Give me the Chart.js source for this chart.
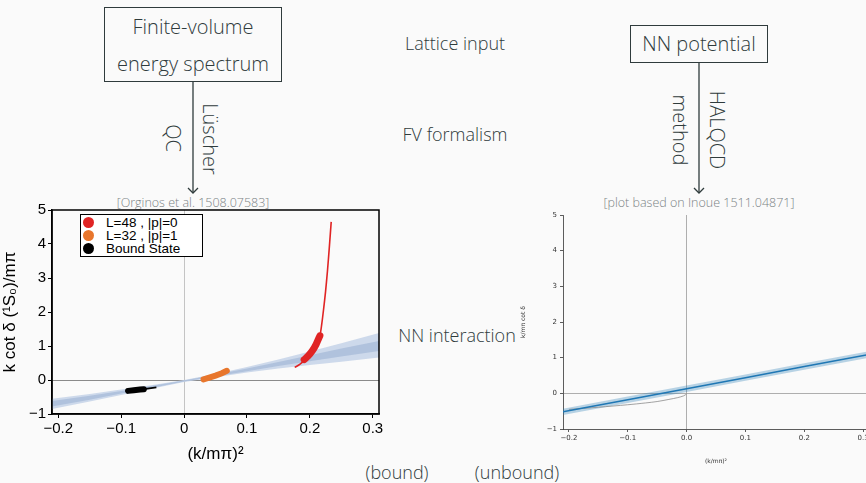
<!DOCTYPE html>
<html>
<head>
<meta charset="utf-8">
<script src="https://cdn.jsdelivr.net/npm/chart.js@4.4.0/dist/chart.umd.min.js"></script>
<style>
  html, body { margin: 0; padding: 0; width: 866px; height: 483px; overflow: hidden; background: #fafafa; }
  body { position: relative; font-family: "Open Sans", "Noto Sans", sans-serif; font-weight: 300; color: #2f3b3c; }
  .t { position: absolute; white-space: nowrap; transform: translate(-50%, -50%); font-size: 18px; }
  .rot { transform: translate(-50%, -50%) rotate(90deg); font-size: 20px; }
  .box { position: absolute; border: 1.3px solid #2f3b3c; box-sizing: border-box; text-align: center; font-size: 20px; }
  .ref { font-size: 12.5px; color: #7a8385; }
  .chart { position: absolute; }
  #legend { position: absolute; left: 80px; top: 214px; width: 123px; height: 43px; box-sizing: border-box;
            border: 1.3px solid #000; background: #fff; font-family: "Liberation Sans", Arial, sans-serif;
            font-weight: 400; font-size: 13.5px; color: #000; }
  #legend div { position: absolute; left: 0; height: 13px; line-height: 13px; }
  #legend span.dot { position: absolute; left: 2px; top: 1px; width: 11px; height: 11px; border-radius: 50%; }
  #legend span.lab { position: absolute; left: 25px; top: 0; white-space: nowrap; }
</style>
</head>
<body>

<div class="box" style="left:104px;top:7px;width:178px;height:75px;line-height:37px;">Finite-volume<br>energy spectrum</div>
<div class="box" style="left:630px;top:25px;width:138px;height:38px;line-height:36px;">NN potential</div>

<svg style="position:absolute;left:0;top:0" width="866" height="483">
  <g stroke="#2f3b3c" stroke-width="1.3" fill="none">
    <line x1="193" y1="82" x2="193" y2="193"/>
    <polyline points="188,188 193,193 198,188"/>
    <line x1="699" y1="63" x2="699" y2="193"/>
    <polyline points="694,188 699,193 704,188"/>
  </g>
</svg>

<div class="t rot" style="left:210px;top:139px;">Lüscher</div>
<div class="t rot" style="left:173px;top:138px;">QC</div>
<div class="t rot" style="left:717px;top:130px;">HALQCD</div>
<div class="t rot" style="left:680px;top:130px;">method</div>

<div class="t" style="left:455px;top:43px;">Lattice input</div>
<div class="t" style="left:455px;top:134px;">FV formalism</div>
<div class="t" style="left:457px;top:335px;">NN interaction</div>
<div class="t" style="left:397px;top:472px;">(bound)</div>
<div class="t" style="left:517px;top:472px;">(unbound)</div>

<div class="t ref" style="left:193px;top:202px;">[Orginos et al. 1508.07583]</div>
<div class="t ref" style="left:699px;top:202px;">[plot based on Inoue 1511.04871]</div>

<canvas id="left" class="chart" width="390" height="270" style="left:0;top:195px;"></canvas>
<canvas id="right" class="chart" width="352" height="270" style="left:520px;top:195px;"></canvas>

<div id="legend"></div>

<script>
// ---- data ----
const xTickVals = [-0.2, -0.1, 0, 0.1, 0.2, 0.3];
const yTickVals = [-1, 0, 1, 2, 3, 4, 5];
const xTickLeft = ["\u22120.2", "\u22120.1", "0", "0.1", "0.2", "0.3"];
const xTickRight = ["\u22120.2", "\u22120.1", "0.0", "0.1", "0.2", "0.3"];
const yTickLabels = ["\u22121", "0", "1", "2", "3", "4", "5"];

// left plot: fit bands
const bandX   = [-0.21, -0.15, -0.1, -0.05, 0, 0.05, 0.1, 0.15, 0.2, 0.25, 0.31];
const outerLo = [-0.85, -0.63, -0.44, -0.25, -0.06, 0.08, 0.22, 0.34, 0.44, 0.54, 0.66];
const outerHi = [-0.55, -0.41, -0.28, -0.15, 0.00, 0.18, 0.38, 0.60, 0.84, 1.08, 1.38];
const innerLo = [-0.78, -0.58, -0.40, -0.23, -0.045, 0.10, 0.26, 0.41, 0.55, 0.69, 0.85];
const innerHi = [-0.62, -0.46, -0.32, -0.17, -0.015, 0.16, 0.34, 0.53, 0.73, 0.93, 1.15];

// left plot: lattice data
const redThinX  = [0.176, 0.184, 0.191, 0.198, 0.205, 0.211, 0.216, 0.219, 0.222, 0.225, 0.228, 0.231, 0.234];
const redThinY  = [0.37, 0.46, 0.57, 0.70, 0.86, 1.05, 1.30, 1.65, 2.10, 2.60, 3.20, 3.90, 4.65];
const redThickX = [0.191, 0.197, 0.204, 0.210, 0.216];
const redThickY = [0.60, 0.70, 0.86, 1.05, 1.30];
const orangeX   = [0.031, 0.040, 0.050, 0.060, 0.068];
const orangeY   = [0.02, 0.07, 0.13, 0.20, 0.27];
const blackThickX = [-0.089, -0.080, -0.070, -0.064];
const blackThickY = [-0.32, -0.30, -0.28, -0.27];
const blackThinX  = [-0.093, -0.064, -0.044];
const blackThinY  = [-0.325, -0.27, -0.22];

const legendLabels = ["L=48 , |p|=0", "L=32 , |p|=1", "Bound State"];
const legendColors = ["#e02424", "#e8762c", "#000000"];

// right plot: HALQCD line + band, bound state curve
const lineX  = [-0.21, -0.1, 0, 0.1, 0.2, 0.31];
const lineY  = [-0.52, -0.18, 0.13, 0.44, 0.75, 1.09];
const lineLo = [-0.61, -0.27, 0.04, 0.35, 0.66, 1.00];
const lineHi = [-0.43, -0.09, 0.22, 0.53, 0.84, 1.18];
const boundX = [-0.20, -0.15, -0.10, -0.07, -0.05, -0.03, -0.015, -0.005, 0];
const boundY = [-0.45, -0.39, -0.32, -0.27, -0.23, -0.17, -0.12, -0.07, -0.02];

// ---- helpers ----
function pts(xs, ys) {
  return xs.map((x, i) => ({ x: x, y: ys[i] }));
}

function fixTicks(vals) {
  return function (scale) {
    scale.ticks = vals.map(v => ({ value: v }));
  };
}

// closed frame round the left plot
const framePlugin = {
  id: "frame",
  afterDatasetsDraw(chart, args, opts) {
    if (!opts.draw) return;
    const a = chart.chartArea;
    const ctx = chart.ctx;
    ctx.save();
    ctx.strokeStyle = "#000";
    ctx.lineWidth = 1.5;
    ctx.strokeRect(a.left, a.top, a.right - a.left, a.bottom - a.top);
    ctx.restore();
  }
};

// ---- legend (html) ----
const legendEl = document.getElementById("legend");
legendLabels.forEach((lab, i) => {
  const row = document.createElement("div");
  row.style.top = (i * 13 + 1) + "px";
  row.innerHTML = '<span class="dot" style="background:' + legendColors[i] + '"></span><span class="lab">' + lab + "</span>";
  legendEl.appendChild(row);
});

// ---- left chart ----
// note: chart.js paints the first dataset on top, so data first, bands last
const outerFill = "rgba(196,210,232,0.85)";
const innerFill = "rgba(172,190,219,0.85)";

new Chart(document.getElementById("left"), {
  type: "scatter",
  data: {
    datasets: [
      { data: pts(redThickX, redThickY), showLine: true, pointRadius: 0, borderWidth: 7, borderColor: legendColors[0], borderCapStyle: "round", tension: 0.3 },
      { data: pts(redThinX, redThinY), showLine: true, pointRadius: 0, borderWidth: 1.6, borderColor: legendColors[0], tension: 0.3 },
      { data: pts(orangeX, orangeY), showLine: true, pointRadius: 0, borderWidth: 6, borderColor: legendColors[1], borderCapStyle: "round" },
      { data: pts(blackThickX, blackThickY), showLine: true, pointRadius: 0, borderWidth: 6, borderColor: legendColors[2], borderCapStyle: "round" },
      { data: pts(blackThinX, blackThinY), showLine: true, pointRadius: 0, borderWidth: 1.8, borderColor: legendColors[2] },
      { data: pts(bandX, innerLo), showLine: true, pointRadius: 0, borderWidth: 0, borderColor: "transparent", fill: false },
      { data: pts(bandX, innerHi), showLine: true, pointRadius: 0, borderWidth: 0, borderColor: "transparent", fill: "-1", backgroundColor: innerFill },
      { data: pts(bandX, outerLo), showLine: true, pointRadius: 0, borderWidth: 0, borderColor: "transparent", fill: false },
      { data: pts(bandX, outerHi), showLine: true, pointRadius: 0, borderWidth: 0, borderColor: "transparent", fill: "-1", backgroundColor: outerFill }
    ]
  },
  options: {
    responsive: false,
    animation: false,
    layout: { padding: { top: 15, right: 11, left: 0, bottom: 0 } },
    plugins: { legend: { display: false }, tooltip: { enabled: false }, frame: { draw: true } },
    scales: {
      x: {
        type: "linear", min: -0.21, max: 0.31,
        afterBuildTicks: fixTicks(xTickVals),
        afterFit: s => { s.height = 51; },
        ticks: {
          color: "#000", padding: 2, maxRotation: 0, autoSkip: false,
          font: { family: "Liberation Sans", size: 15 },
          callback: (v) => xTickLeft[xTickVals.findIndex(t => Math.abs(t - v) < 1e-9)]
        },
        grid: {
          color: c => (c.tick && c.tick.value === 0 ? "#c4c4c4" : "transparent"),
          tickColor: "#000", tickLength: 4, lineWidth: 1
        },
        border: { display: true, color: "#000", width: 1.5 },
        title: { display: true, text: "(k/m\u03c0)\u00b2", color: "#000", padding: { top: 4, bottom: 0 },
                 font: { family: "Liberation Sans", size: 17 } }
      },
      y: {
        type: "linear", min: -1, max: 5,
        afterBuildTicks: fixTicks(yTickVals),
        afterFit: s => { s.width = 52; },
        ticks: {
          color: "#000", padding: 2,
          font: { family: "Liberation Sans", size: 15 },
          callback: (v) => yTickLabels[yTickVals.indexOf(v)]
        },
        grid: {
          color: c => (c.tick && c.tick.value === 0 ? "#8a8a8a" : "transparent"),
          tickColor: "#000", tickLength: 4, lineWidth: 1
        },
        border: { display: true, color: "#000", width: 1.5 },
        title: { display: true, text: "k cot \u03b4 (\u00b9S\u2080)/m\u03c0", color: "#000", padding: { top: 0, bottom: 2 },
                 font: { family: "Liberation Sans", size: 17 } }
      }
    }
  },
  plugins: [framePlugin]
});

// ---- right chart ----
new Chart(document.getElementById("right"), {
  type: "scatter",
  data: {
    datasets: [
      { data: pts(lineX, lineY), showLine: true, pointRadius: 0, borderWidth: 1.5, borderColor: "#1f77b4" },
      { data: pts(boundX, boundY), showLine: true, pointRadius: 0, borderWidth: 0.8, borderColor: "#8c8c8c", tension: 0.3 },
      { data: pts(lineX, lineLo), showLine: true, pointRadius: 0, borderWidth: 0, borderColor: "transparent", fill: false },
      { data: pts(lineX, lineHi), showLine: true, pointRadius: 0, borderWidth: 0, borderColor: "transparent", fill: "-1", backgroundColor: "rgba(31,119,180,0.3)" }
    ]
  },
  options: {
    responsive: false,
    animation: false,
    layout: { padding: { top: 20, right: 3, left: 0, bottom: 0 } },
    plugins: { legend: { display: false }, tooltip: { enabled: false }, frame: { draw: false } },
    scales: {
      x: {
        type: "linear", min: -0.21, max: 0.31,
        afterBuildTicks: fixTicks(xTickVals),
        afterFit: s => { s.height = 36; },
        ticks: {
          color: "#333", padding: 2, maxRotation: 0, autoSkip: false,
          font: { family: "DejaVu Sans", size: 7 },
          callback: (v) => xTickRight[xTickVals.findIndex(t => Math.abs(t - v) < 1e-9)]
        },
        grid: {
          color: c => (c.tick && c.tick.value === 0 ? "#9a9a9a" : "transparent"),
          tickColor: "#333", tickLength: 3, lineWidth: 0.8
        },
        border: { display: true, color: "#333", width: 0.8 },
        title: { display: true, text: "(k/m\u03c0)\u00b2", color: "#333", padding: { top: 2, bottom: 0 },
                 font: { family: "DejaVu Sans", size: 6 } }
      },
      y: {
        type: "linear", min: -1, max: 5,
        afterBuildTicks: fixTicks(yTickVals),
        afterFit: s => { s.width = 43; },
        ticks: {
          color: "#333", padding: 3,
          font: { family: "DejaVu Sans", size: 7 },
          callback: (v) => yTickLabels[yTickVals.indexOf(v)]
        },
        grid: {
          color: c => (c.tick && c.tick.value === 0 ? "#9a9a9a" : "transparent"),
          tickColor: "#333", tickLength: 3, lineWidth: 0.8
        },
        border: { display: true, color: "#333", width: 0.8 },
        title: { display: true, text: "k/m\u03c0 cot \u03b4", color: "#333", padding: { top: 0, bottom: 6 },
                 font: { family: "DejaVu Sans", size: 6 } }
      }
    }
  }
});
</script>
</body>
</html>
